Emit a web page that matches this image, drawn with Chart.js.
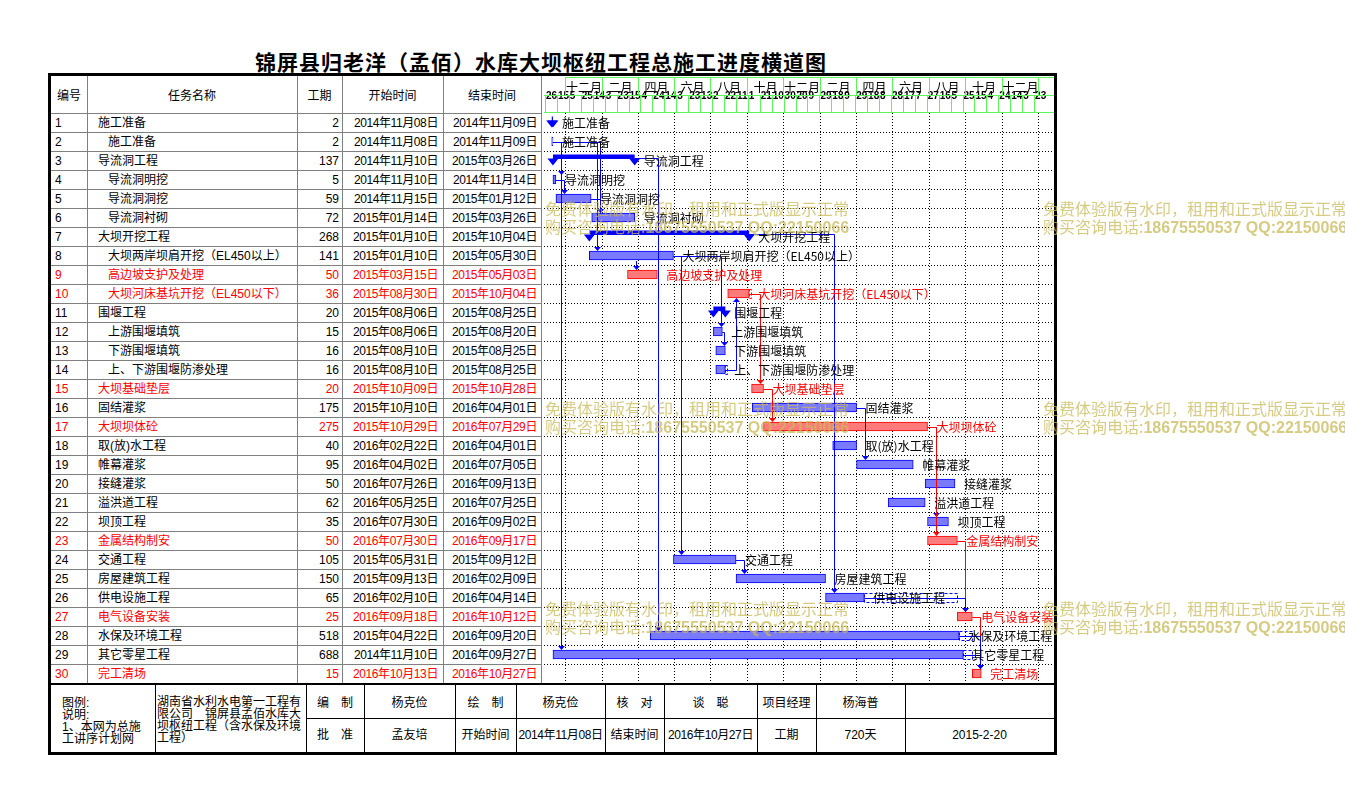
<!DOCTYPE html>
<html>
<head>
<meta charset="utf-8">
<script src="https://cdn.jsdelivr.net/npm/chart.js@4.4.1/dist/chart.umd.min.js"></script>
<style>
  body { margin: 0; background: #fff; }
  #page { position: relative; width: 1345px; height: 802px; overflow: hidden; background: #fff;
          font-family: "Liberation Sans", "Noto Sans CJK SC", sans-serif; font-size: 12px; color: #000; }
  .t { position: absolute; white-space: nowrap; }
  .ln { position: absolute; }
  .wm { position: absolute; white-space: nowrap; color: rgba(200, 185, 90, 0.75); font-size: 16px;
        line-height: 18px; font-family: "Noto Sans CJK SC", sans-serif; pointer-events: none; z-index: 5; }
  #gantt { position: absolute; left: 541px; top: 76px; }
</style>
</head>
<body>
<div id="page">
  <div class="t" style="left:0;width:1082px;top:48px;text-align:center;font-size:21px;font-weight:bold;letter-spacing:1px;line-height:26px;font-family:'Noto Sans CJK SC'">锦屏县归老洋（孟佰）水库大坝枢纽工程总施工进度横道图</div>
  <div style="position:absolute;left:48px;top:73px;width:1003px;height:676px;border:3px solid #000"></div>
  <canvas id="gantt" width="513" height="607"></canvas>
</div>
<script>
// ---- data ----
const rowIds = [1,2,3,4,5,6,7,8,9,10,11,12,13,14,15,16,17,18,19,20,21,22,23,24,25,26,27,28,29,30];
const taskNames = ["施工准备","施工准备","导流洞工程","导流洞明挖","导流洞洞挖","导流洞衬砌","大坝开挖工程",
  "大坝两岸坝肩开挖（EL450以上）","高边坡支护及处理","大坝河床基坑开挖（EL450以下）","围堰工程","上游围堰填筑",
  "下游围堰填筑","上、下游围堰防渗处理","大坝基础垫层","固结灌浆","大坝坝体砼","取(放)水工程","帷幕灌浆","接缝灌浆",
  "溢洪道工程","坝顶工程","金属结构制安","交通工程","房屋建筑工程","供电设施工程","电气设备安装","水保及环境工程",
  "其它零星工程","完工清场"];
const indentLevel = [0,1,0,1,1,1,0,1,1,1,0,1,1,1,0,0,0,0,0,0,0,0,0,0,0,0,0,0,0,0];
const durations = [2,2,137,5,59,72,268,141,50,36,20,15,16,16,20,175,275,40,95,50,62,35,50,105,150,65,25,518,688,15];
const startDates = ["2014-11-08","2014-11-08","2014-11-10","2014-11-10","2014-11-15","2015-01-14","2015-01-10",
  "2015-01-10","2015-03-15","2015-08-30","2015-08-06","2015-08-06","2015-08-10","2015-08-10","2015-10-09",
  "2015-10-10","2015-10-29","2016-02-22","2016-04-02","2016-07-26","2016-05-25","2016-07-30","2016-07-30",
  "2015-05-31","2015-09-13","2016-02-10","2016-09-18","2015-04-22","2014-11-10","2016-10-13"];
const endDates = ["2014-11-09","2014-11-09","2015-03-26","2014-11-14","2015-01-12","2015-03-26","2015-10-04",
  "2015-05-30","2015-05-03","2015-10-04","2015-08-25","2015-08-20","2015-08-25","2015-08-25","2015-10-28",
  "2016-04-01","2016-07-29","2016-04-01","2016-07-05","2016-09-13","2016-07-25","2016-09-02","2016-09-17",
  "2015-09-12","2016-02-09","2016-04-14","2016-10-12","2016-09-20","2016-09-27","2016-10-27"];
const criticalRows = [9,10,15,17,23,27,30];
const summaryRows = [1,3,7,11];
const links = [[2,4],[2,6],[2,8],[2,29],[4,5],[5,6],[3,28],[8,9],[8,12],[8,24],[12,13],[14,10],[7,26],
  [10,15],[15,17],[16,19],[17,22],[17,23],[23,27],[24,25],[26,27],[27,30],[28,30],[29,30]];
const axisStart = "2014-10-26";
const axisEnd = "2017-02-27";
const monthStarts = ["2014-12-01","2015-02-01","2015-04-01","2015-06-01","2015-08-01","2015-10-01","2015-12-01",
  "2016-02-01","2016-04-01","2016-06-01","2016-08-01","2016-10-01","2016-12-01","2017-02-01"];
const monthLabels = ["十二月","二月","四月","六月","八月","十月","十二月","二月","四月","六月","八月","十月","十二月"];
const headLabels = ["编号","任务名称","工期","开始时间","结束时间"];
const footTop = ["编　制","杨克俭","绘　制","杨克俭","核　对","谈　聪","项目经理","杨海普",""];
const footBottom = ["批　准","孟友培","开始时间","2014年11月08日","结束时间","2016年10月27日","工期","720天","2015-2-20"];
const footNote = ["图例:","说明:","1、本网为总施","工讲序计划网"];
const footCompany = ["湖南省水利水电第一工程有","限公司　锦屏县孟佰水库大","坝枢纽工程（含水保及环境","工程）"];
const watermark1 = "免费体验版有水印，租用和正式版显示正常";
const watermark2 = ["购买咨询电话:", "18675550537 QQ:22150066"];

// ---- helpers ----
function dayNum(s) {
  const p = s.split("-").map(Number), b = axisStart.split("-").map(Number);
  return (Date.UTC(p[0], p[1] - 1, p[2]) - Date.UTC(b[0], b[1] - 1, b[2])) / 864e5;
}
function fmtDate(s) {
  const p = s.split("-");
  return p[0] + "年" + p[1] + "月" + p[2] + "日";
}
const page = document.getElementById("page");
function txt(text, x, y, w, h, align, color, extra) {
  const d = document.createElement("div");
  d.className = "t";
  d.textContent = text;
  d.style.cssText += `left:${x}px;top:${y}px;width:${w}px;height:${h}px;line-height:${h}px;text-align:${align};color:${color || "#000"};` + (extra || "");
  page.appendChild(d);
  return d;
}
function line(x, y, w, h, c) {
  const d = document.createElement("div");
  d.className = "ln";
  d.style.cssText = `left:${x}px;top:${y}px;width:${w}px;height:${h}px;background:${c};`;
  page.appendChild(d);
}

// ---- left table ----
const colX = [51, 87, 297, 342, 443, 541];
const rowTop = 113, rowH = 19;
colX.slice(1).forEach(x => line(x, 76, 1, 607, "#808080"));
for (let k = 0; k < rowIds.length; k++) line(51, rowTop + k * rowH, 490, 1, "#808080");
line(51, 683, 1003, 2, "#000");
headLabels.forEach((t, j) => txt(t, colX[j], 76, colX[j + 1] - colX[j], 37, "center", "#000", "font-family:'Noto Sans CJK SC'"));
const dateStyle = "letter-spacing:-0.4px;";
rowIds.forEach((id, i) => {
  const y = rowTop + i * rowH + 1;
  const c = criticalRows.includes(id) ? "#ff0000" : "#000";
  txt(String(id), 55, y, 30, 19, "left", c);
  txt(taskNames[i], 98 + indentLevel[i] * 10, y, 195, 19, "left", c);
  txt(String(durations[i]), 297, y, 42, 19, "right", c);
  txt(fmtDate(startDates[i]), 342, y, 96, 19, "right", c, dateStyle);
  txt(fmtDate(endDates[i]), 443, y, 94, 19, "right", c, dateStyle);
});

// ---- footer ----
const footX = [306, 364, 455, 516, 605, 664, 757, 816, 905, 1054];
[155].concat(footX.slice(0, -1)).forEach(x => line(x, 685, 1, 67, "#000"));
line(306, 718, 748, 1, "#000");
footTop.forEach((t, j) => txt(t, footX[j], 685, footX[j + 1] - footX[j], 33, "center", "#000", "font-family:'Noto Sans CJK SC'"));
footBottom.forEach((t, j) => txt(t, footX[j], 719, footX[j + 1] - footX[j], 33, "center", "#000", j === 3 || j === 5 ? dateStyle : ""));
footNote.forEach((t, j) => txt(t, 62, 697 + j * 12, 92, 12, "left", "#000"));
footCompany.forEach((t, j) => txt(t, 157, 695 + j * 12, 148, 12, "left", "#000", "font-family:'Noto Sans CJK SC'"));

// ---- watermarks ----
[[545, 199], [1043, 199], [545, 399], [1043, 399], [545, 599], [1043, 599]].forEach(([x, y]) => {
  const d = document.createElement("div");
  d.className = "wm";
  d.style.left = x + "px";
  d.style.top = y + "px";
  d.innerHTML = watermark1 + "<br>" + watermark2[0] + "<b style='font-family:Liberation Sans'>" + watermark2[1] + "</b>";
  page.appendChild(d);
});

// ---- gantt chart ----
const barStart = startDates.map(dayNum);
const barEnd = endDates.map(s => dayNum(s) + 1);
const isCrit = id => criticalRows.includes(id);
const isSum = id => summaryRows.includes(id);
const taskData = rowIds.map((id, i) => isSum(id) ? null : [barStart[i], barEnd[i]]);

const ganttPlugin = {
  id: "gantt",
  beforeDatasetsDraw(chart) {
    const { ctx, chartArea: a, scales: { x, y } } = chart;
    const mx = monthStarts.map(d => Math.round(x.getPixelForValue(dayNum(d))) + 0.5);
    ctx.save();
    // header grid
    ctx.strokeStyle = "#5cf55c";
    ctx.lineWidth = 1;
    ctx.beginPath();
    ctx.moveTo(mx[0], 1.5); ctx.lineTo(a.right, 1.5);
    ctx.moveTo(a.left, 19.5); ctx.lineTo(a.right, 19.5);
    ctx.moveTo(a.left, a.top - 0.5); ctx.lineTo(a.right, a.top - 0.5);
    mx.forEach(p => { ctx.moveTo(p, 1); ctx.lineTo(p, 19.5); });
    x.ticks.forEach(t => {
      const p = Math.round(x.getPixelForValue(t.value)) + 1.5;
      ctx.moveTo(p, 19.5); ctx.lineTo(p, a.top);
    });
    ctx.stroke();
    ctx.fillStyle = "#000";
    ctx.font = '12px "Noto Sans CJK SC"';
    ctx.textAlign = "center";
    ctx.textBaseline = "middle";
    monthLabels.forEach((t, j) => ctx.fillText(t, (mx[j] + mx[j + 1]) / 2, 11));
    // body dotted grid
    ctx.strokeStyle = "#000";
    ctx.setLineDash([1, 2]);
    ctx.beginPath();
    for (let k = 1; k < rowIds.length; k++) {
      const yy = Math.round(y.getPixelForValue(k - 0.5)) + 0.5;
      ctx.moveTo(a.left, yy); ctx.lineTo(a.right, yy);
    }
    mx.forEach(p => { ctx.moveTo(p, a.top); ctx.lineTo(p, a.bottom); });
    ctx.stroke();
    ctx.setLineDash([]);

    // free float (dashed) to the earliest successor
    rowIds.forEach((id, i) => {
      if (isSum(id)) return;
      const succ = links.filter(l => l[0] === id).map(l => barStart[l[1] - 1]);
      if (!succ.length) return;
      const s = Math.min(...succ);
      if (s - barEnd[i] <= 1) return;
      const x0 = x.getPixelForValue(barEnd[i]), x1 = x.getPixelForValue(s), yc = y.getPixelForValue(i);
      ctx.strokeStyle = isCrit(id) ? "#ff0000" : "#0000ff";
      ctx.setLineDash([3, 2]);
      ctx.strokeRect(Math.round(x0) + 0.5, Math.round(yc - 4.5) + 0.5, Math.round(x1 - x0), 9);
      ctx.setLineDash([]);
    });
    ctx.restore();
  },
  afterDatasetsDraw(chart) {
    const { ctx, scales: { x, y } } = chart;
    ctx.save();
    // links, drawn over the bars
    ctx.lineWidth = 1;
    links.forEach(([fa, fb]) => {
      const ia = fa - 1, ib = fb - 1;
      const col = isCrit(fa) && isCrit(fb) ? "#ff0000" : "#0000ff";
      ctx.strokeStyle = col; ctx.fillStyle = col;
      const xe = x.getPixelForValue(barEnd[ia]);
      const ya = Math.round(y.getPixelForValue(ia) + (isSum(fa) ? -3 : 0)) + 0.5;
      const xs = Math.round(x.getPixelForValue(barStart[ib]) + 8) + 0.5;
      const yb = y.getPixelForValue(ib);
      const down = fb > fa;
      const tip = down ? yb - 4.5 : yb + 4.5;
      ctx.beginPath();
      if (xs > xe) {
        ctx.moveTo(xe, ya); ctx.lineTo(xs, ya);
      } else {
        ctx.moveTo(xs, ya + (down ? 4.5 : -4.5));
      }
      ctx.lineTo(xs, tip + (down ? -3 : 3));
      ctx.stroke();
      ctx.beginPath();
      ctx.moveTo(xs - 3.5, tip + (down ? -4 : 4));
      ctx.lineTo(xs + 3.5, tip + (down ? -4 : 4));
      ctx.lineTo(xs, tip);
      ctx.closePath();
      ctx.fill();
    });
    // summary bars
    ctx.fillStyle = "#0000ff";
    rowIds.forEach((id, i) => {
      if (!isSum(id)) return;
      const xs = x.getPixelForValue(barStart[i]), xe = x.getPixelForValue(barEnd[i]), yc = y.getPixelForValue(i);
      ctx.fillRect(xs, yc - 6, xe - xs, 4.5);
      [xs, xe].forEach(p => {
        ctx.beginPath();
        ctx.moveTo(p - 5.5, yc - 2); ctx.lineTo(p + 5.5, yc - 2); ctx.lineTo(p, yc + 5);
        ctx.closePath(); ctx.fill();
      });
    });
    // task labels
    ctx.font = '12px "Noto Sans CJK SC"';
    ctx.textAlign = "left";
    ctx.textBaseline = "middle";
    rowIds.forEach((id, i) => {
      ctx.fillStyle = isCrit(id) ? "#ff0000" : "#000";
      ctx.fillText(taskNames[i], x.getPixelForValue(barEnd[i]) + 9, y.getPixelForValue(i) + 1);
    });
    ctx.restore();
  }
};

new Chart(document.getElementById("gantt"), {
  type: "bar",
  data: {
    labels: rowIds,
    datasets: [{
      label: "任务",
      data: taskData,
      backgroundColor: rowIds.map(id => isCrit(id) ? "#ff7a7a" : "#7a7aff"),
      borderColor: rowIds.map(id => isCrit(id) ? "#ff0000" : "#0000ff"),
      borderWidth: 1,
      borderSkipped: false,
      barThickness: 9,
      grouped: false
    }]
  },
  options: {
    indexAxis: "y",
    responsive: false,
    devicePixelRatio: 1,
    animation: false,
    events: [],
    layout: { padding: 0 },
    plugins: { legend: { display: false }, tooltip: { enabled: false } },
    scales: {
      x: {
        type: "linear",
        position: "top",
        min: 0,
        max: dayNum(axisEnd),
        bounds: "data",
        grid: { display: false },
        border: { display: false },
        afterBuildTicks: s => { s.ticks = s.ticks.filter(t => t.value <= 830); },
        afterFit: s => { s.height = 37; },
        ticks: {
          stepSize: 20,
          autoSkip: false,
          maxRotation: 0,
          includeBounds: false,
          align: "start",
          labelOffset: 2,
          padding: 3,
          color: "#000",
          font: { size: 10, weight: "bold", family: "Liberation Sans" },
          callback: v => {
            const b = axisStart.split("-").map(Number);
            return new Date(Date.UTC(b[0], b[1] - 1, b[2]) + v * 864e5).getUTCDate();
          }
        }
      },
      y: { type: "category", display: false }
    }
  },
  plugins: [ganttPlugin]
});
</script>
</body>
</html>
